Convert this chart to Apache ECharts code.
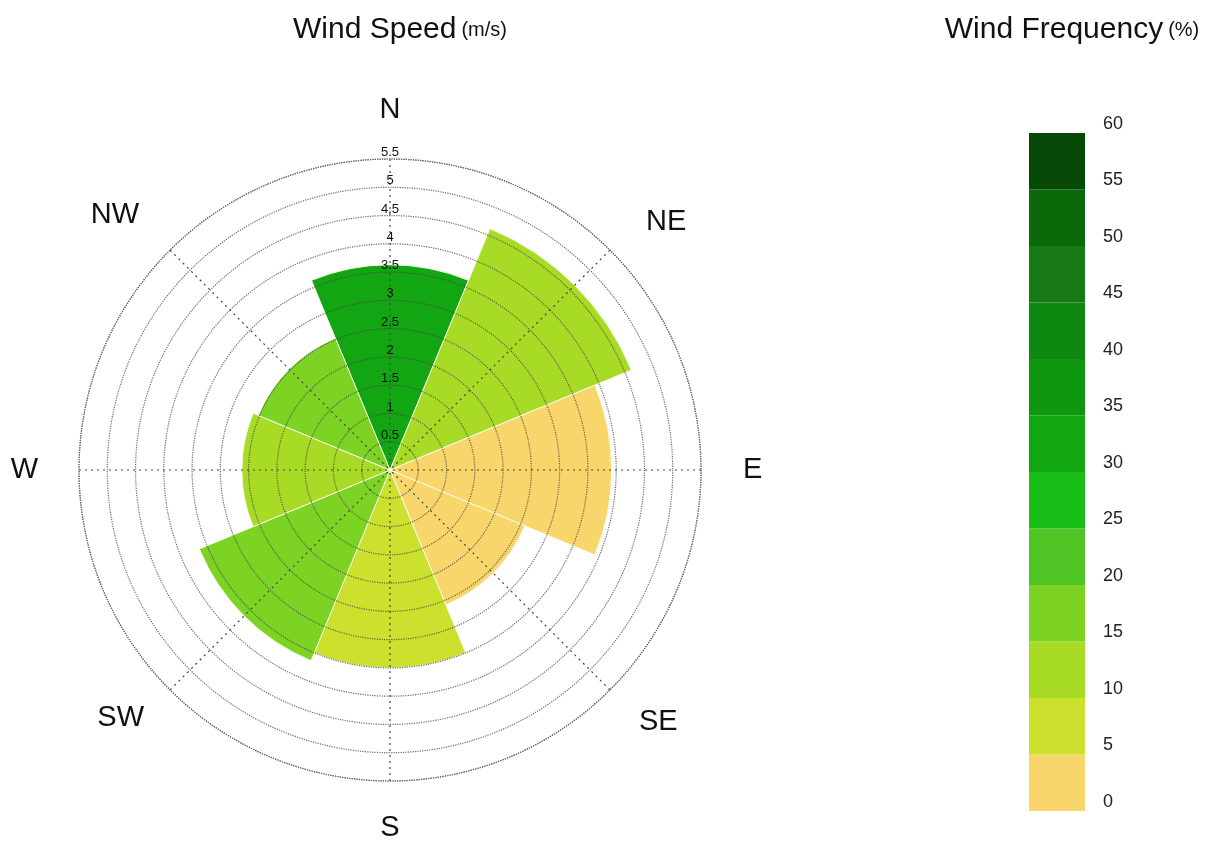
<!DOCTYPE html>
<html>
<head>
<meta charset="utf-8">
<title>Wind Rose</title>
<script src="https://cdn.jsdelivr.net/npm/echarts@6/dist/echarts.min.js"></script>
<style>
  html, body { margin: 0; padding: 0; background: #fff; }
  #chart { width: 1219px; height: 845px; }
</style>
</head>
<body>
<div id="chart"></div>
<script>
// wind rose data
const directions = ["N", "NE", "E", "SE", "S", "SW", "W", "NW"];
const windSpeed = [3.63, 4.62, 3.92, 2.58, 3.5, 3.65, 2.62, 2.52];
const windFreq = [31, 12, 3, 2, 8, 16, 13, 18];

const speedMax = 5.5;
const freqTicks = [0, 5, 10, 15, 20, 25, 30, 35, 40, 45, 50, 55, 60];
const binColors = [
  "#f9d66c", "#cbe12e", "#a7db26", "#7dd323", "#4ec524", "#18bd18",
  "#12a612", "#0f970f", "#0f880f", "#177a17", "#0a6a0a", "#064806",
];

const font = "'Liberation Sans', Arial, sans-serif";

const colorFor = (f) => {
  for (let i = 0; i < binColors.length; i++) {
    if (f < freqTicks[i + 1]) return binColors[i];
  }
  return binColors[binColors.length - 1];
};

// nudges for the compass labels (ECharts picks their anchor side itself)
const dirRich = {
  d0: { lineHeight: 30 },
  d1: { lineHeight: 8, padding: [0, 0, 0, 12] },
  d2: { padding: [0, 0, 0, 8] },
  d3: { lineHeight: 16, padding: [0, 0, 0, 5] },
  d4: { lineHeight: 26 },
  d5: { lineHeight: 8, padding: [0, 2, 0, 0] },
  d6: { padding: [0, 7, 0, 0] },
  d7: { lineHeight: 22, padding: [0, 7, 0, 0] },
};
Object.values(dirRich).forEach((s) => {
  s.fontSize = 29;
  s.color = "#111";
  s.fontFamily = font;
});

const myChart = echarts.init(document.getElementById("chart"));

const colorbar = binColors.map((c, i) => ({
  type: "bar",
  stack: "cb",
  data: [freqTicks[i + 1] - freqTicks[i]],
  barWidth: "100%",
  silent: true,
  itemStyle: { color: c },
}));

const titleRich = {
  a: { fontSize: 30, color: "#111", fontFamily: font, fontWeight: "normal" },
  b: { fontSize: 20, color: "#111", fontFamily: font, fontWeight: "normal" },
};

myChart.setOption({
  animation: false,
  textStyle: { fontFamily: font },
  title: [
    {
      text: "{a|Wind Speed} {b|(m/s)}",
      left: 395,
      top: 10,
      textAlign: "center",
      textStyle: { fontWeight: "normal", rich: titleRich },
    },
    {
      text: "{a|Wind Frequency} {b|(%)}",
      left: 1067,
      top: 10,
      textAlign: "center",
      textStyle: { fontWeight: "normal", rich: titleRich },
    },
  ],
  polar: [
    { center: [390, 470], radius: 311 },
    { center: [390, 470], radius: 311 },
  ],
  angleAxis: [
    {
      polarIndex: 0,
      type: "value",
      min: 0,
      max: 360,
      interval: 45,
      startAngle: 90,
      z: 10,
      axisLine: { lineStyle: { color: "#666", type: "dotted", width: 1.2 } },
      axisTick: { show: false },
      axisLabel: {
        margin: 34,
        fontSize: 29,
        color: "#111",
        formatter: (v) => {
          const i = v / 45;
          return directions[i] ? `{d${i}|${directions[i]}}` : "";
        },
        rich: dirRich,
      },
      splitLine: { lineStyle: { color: "#444", type: [2, 4], width: 1.2 } },
    },
    {
      polarIndex: 1,
      type: "category",
      data: directions,
      startAngle: 112.5,
      show: false,
    },
  ],
  radiusAxis: [
    {
      polarIndex: 0,
      type: "value",
      min: 0,
      max: speedMax,
      interval: 0.5,
      z: 10,
      axisLine: { show: false },
      axisTick: { show: false },
      axisLabel: {
        margin: 0,
        fontSize: 13,
        color: "#111",
        align: "center",
        verticalAlign: "bottom",
        formatter: (v) => (v === 0 ? "" : String(v)),
      },
      splitLine: { lineStyle: { color: "rgba(70,70,70,0.8)", type: "dotted", width: 1.2 } },
    },
    {
      polarIndex: 1,
      type: "value",
      min: 0,
      max: speedMax,
      show: false,
    },
  ],
  grid: { left: 1029, width: 56, top: 133, height: 678 },
  xAxis: { type: "category", data: ["freq"], show: false },
  yAxis: {
    type: "value",
    min: 0,
    max: 60,
    interval: 5,
    position: "right",
    axisLine: { show: false },
    axisTick: { show: false },
    splitLine: { show: false },
    axisLabel: {
      margin: 18,
      fontSize: 18,
      color: "#222",
      verticalAlign: "bottom",
      lineHeight: 18,
    },
  },
  series: [
    {
      name: "Wind Speed",
      type: "bar",
      coordinateSystem: "polar",
      polarIndex: 1,
      data: windSpeed,
      barCategoryGap: "0%",
      itemStyle: {
        color: (p) => colorFor(windFreq[p.dataIndex]),
        borderColor: "#f6fbe6",
        borderWidth: 1,
      },
    },
    ...colorbar,
  ],
});
</script>
</body>
</html>
